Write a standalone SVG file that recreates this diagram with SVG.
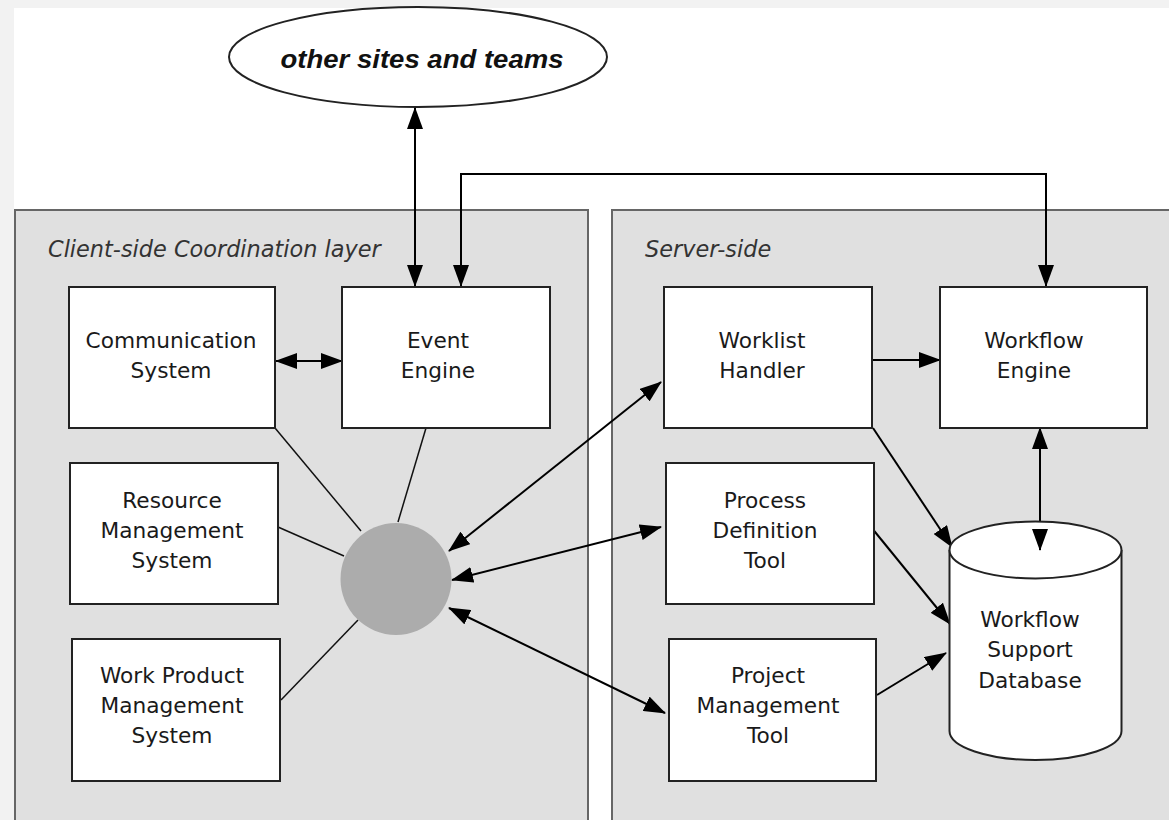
<svg xmlns="http://www.w3.org/2000/svg" width="1169" height="820" viewBox="0 0 1169 820">
<style>
.panel{fill:#e0e0e0;stroke:#666;stroke-width:2}
.box{fill:#fff;stroke:#222;stroke-width:2}
.lbl{font-family:"DejaVu Sans",sans-serif;font-size:21.7px;fill:#1a1a1a;text-anchor:middle}
.plbl{font-family:"DejaVu Sans",sans-serif;font-size:22.4px;font-style:italic;fill:#333}
.arr{stroke:#000;stroke-width:2;fill:none}
.thin{stroke:#111;stroke-width:1.5;fill:none}
</style>
<defs>
<marker id="ah" viewBox="0 0 22 16" refX="21" refY="8" markerWidth="22" markerHeight="16" markerUnits="userSpaceOnUse" orient="auto-start-reverse">
<path d="M0,0 L22,8 L0,16 z" fill="#000"/>
</marker>
</defs>
<rect x="0" y="0" width="1169" height="820" fill="#f2f2f2"/>
<rect x="14" y="8" width="1155" height="812" fill="#fff"/>
<g id="client-panel">
<rect class="panel" x="15" y="210" width="573" height="630"/>
<text class="plbl" x="48" y="257">Client-side Coordination layer</text>
</g>
<g id="server-panel">
<rect class="panel" x="612" y="210" width="580" height="630"/>
<text class="plbl" x="645" y="257">Server-side</text>
</g>
<g id="other-sites">
<ellipse cx="418" cy="57" rx="189" ry="50" fill="#fff" stroke="#222" stroke-width="2"/>
<text x="422" y="68" font-family="'Liberation Sans',Arial,sans-serif" font-size="26px" font-weight="bold" font-style="italic" fill="#111" text-anchor="middle" textLength="283" lengthAdjust="spacingAndGlyphs">other sites and teams</text>
</g>
<g id="connectors">
<line class="thin" x1="275" y1="428" x2="361" y2="531"/>
<line class="thin" x1="426" y1="428" x2="398" y2="522"/>
<line class="thin" x1="278" y1="527" x2="344" y2="556"/>
<line class="thin" x1="281" y1="700" x2="358" y2="620"/>
<line class="arr" x1="415" y1="108" x2="415" y2="286" marker-start="url(#ah)" marker-end="url(#ah)"/>
<path class="arr" d="M461,286 V174 H1046 V286" stroke-width="1.6" marker-start="url(#ah)" marker-end="url(#ah)"/>
<line class="arr" x1="276" y1="361" x2="342" y2="361" marker-start="url(#ah)" marker-end="url(#ah)"/>
<line class="arr" x1="872" y1="360" x2="940" y2="360" marker-end="url(#ah)"/>
<line class="arr" x1="449" y1="551" x2="661" y2="382" marker-start="url(#ah)" marker-end="url(#ah)"/>
<line class="arr" x1="452" y1="580" x2="661" y2="527" marker-start="url(#ah)" marker-end="url(#ah)"/>
<line class="arr" x1="449" y1="608" x2="665" y2="713" marker-start="url(#ah)" marker-end="url(#ah)"/>
<line class="arr" x1="873" y1="428" x2="952" y2="547" stroke-width="1.6" marker-end="url(#ah)"/>
<line class="arr" x1="871" y1="527" x2="950" y2="624" stroke-width="1.6" marker-end="url(#ah)"/>
<line class="arr" x1="877" y1="695" x2="946" y2="653" stroke-width="1.6" marker-end="url(#ah)"/>
<line class="arr" x1="1040" y1="428" x2="1040" y2="550" marker-start="url(#ah)" marker-end="url(#ah)"/>
</g>
<g id="hub">
<ellipse cx="396" cy="579" rx="55.5" ry="56" fill="#acacac"/>
</g>
<g id="communication-system">
<rect class="box" x="69" y="287" width="206" height="141"/>
<text class="lbl" x="171" y="348">Communication</text>
<text class="lbl" x="171" y="378">System</text>
</g>
<g id="event-engine">
<rect class="box" x="342" y="287" width="208" height="141"/>
<text class="lbl" x="438" y="348">Event</text>
<text class="lbl" x="438" y="378">Engine</text>
</g>
<g id="resource-management">
<rect class="box" x="70" y="463" width="208" height="141"/>
<text class="lbl" x="172" y="508">Resource</text>
<text class="lbl" x="172" y="538">Management</text>
<text class="lbl" x="172" y="568">System</text>
</g>
<g id="work-product-management">
<rect class="box" x="72" y="639" width="208" height="142"/>
<text class="lbl" x="172" y="683">Work Product</text>
<text class="lbl" x="172" y="713">Management</text>
<text class="lbl" x="172" y="743">System</text>
</g>
<g id="worklist-handler">
<rect class="box" x="664" y="287" width="208" height="141"/>
<text class="lbl" x="762" y="348">Worklist</text>
<text class="lbl" x="762" y="378">Handler</text>
</g>
<g id="workflow-engine">
<rect class="box" x="940" y="287" width="207" height="141"/>
<text class="lbl" x="1034" y="348">Workflow</text>
<text class="lbl" x="1034" y="378">Engine</text>
</g>
<g id="process-definition-tool">
<rect class="box" x="666" y="463" width="208" height="141"/>
<text class="lbl" x="765" y="508">Process</text>
<text class="lbl" x="765" y="538">Definition</text>
<text class="lbl" x="765" y="568">Tool</text>
</g>
<g id="project-management-tool">
<rect class="box" x="669" y="639" width="207" height="142"/>
<text class="lbl" x="768" y="683">Project</text>
<text class="lbl" x="768" y="713">Management</text>
<text class="lbl" x="768" y="743">Tool</text>
</g>
<g id="workflow-support-database">
<path d="M949.5,550 V731 A86,29 0 0 0 1121.5,731 V550" fill="#fff" stroke="#222" stroke-width="2"/>
<ellipse cx="1035.5" cy="550" rx="86" ry="28.5" fill="#fff" stroke="#222" stroke-width="2"/>
<line class="arr" x1="1040" y1="530" x2="1040" y2="550" marker-end="url(#ah)"/>
<text class="lbl" x="1030" y="627">Workflow</text>
<text class="lbl" x="1030" y="657">Support</text>
<text class="lbl" x="1030" y="688">Database</text>
</g>
</svg>
